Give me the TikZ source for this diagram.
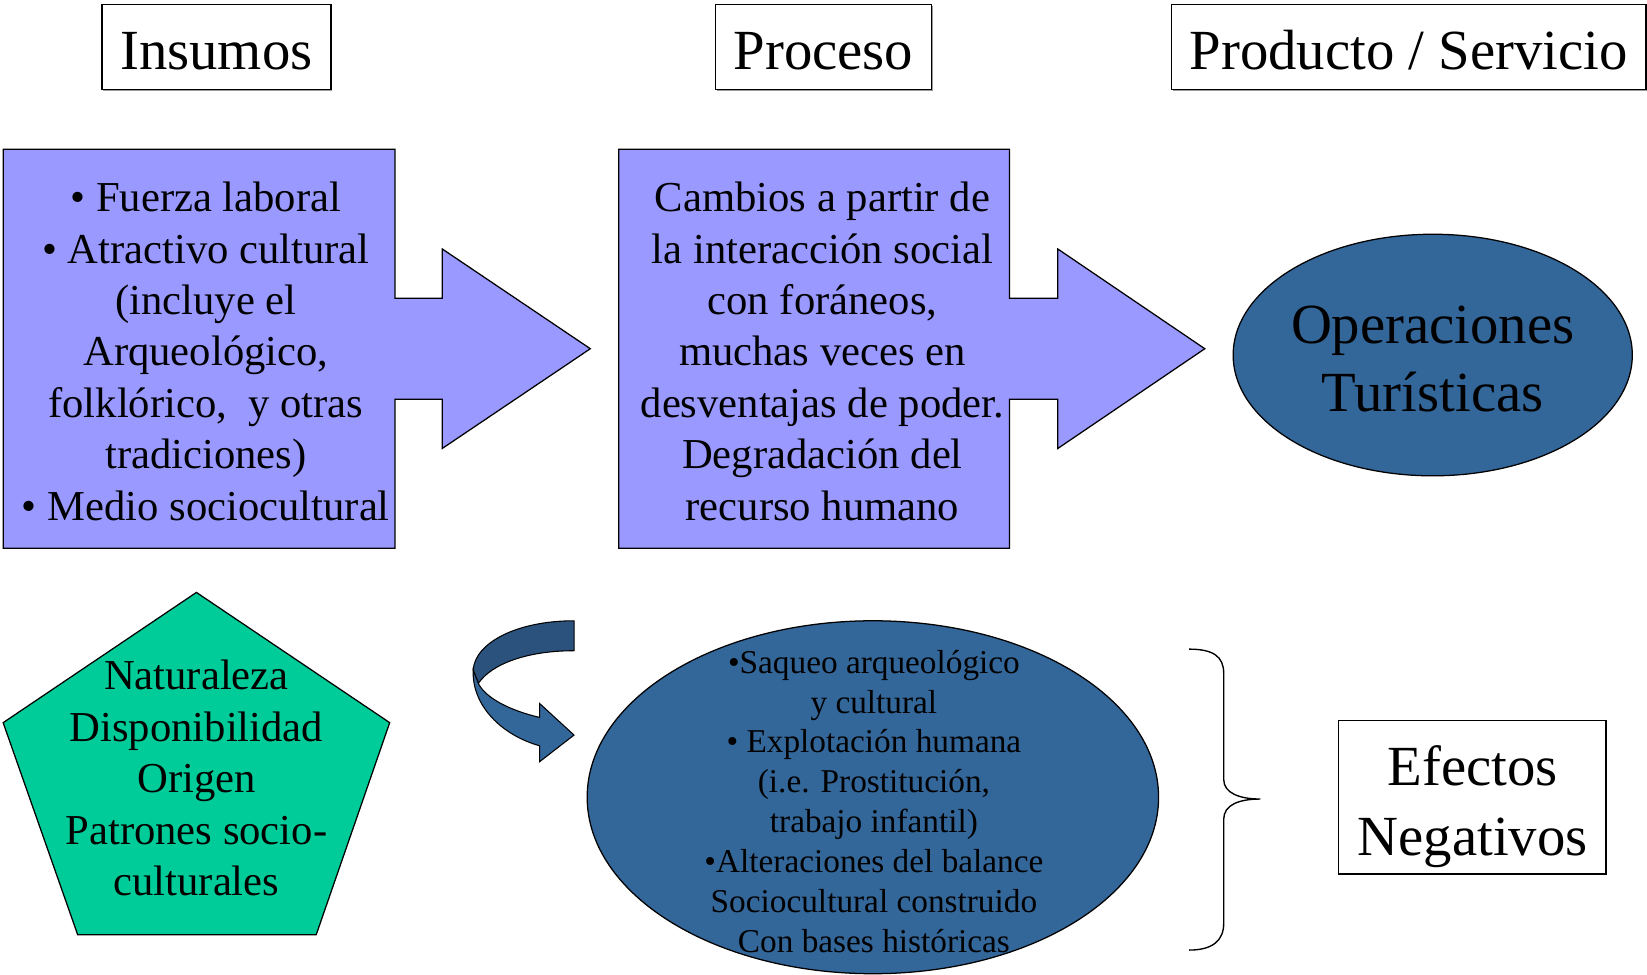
\documentclass[tikz,border=0pt]{standalone}
\usepackage{fontspec}
\setmainfont{Liberation Serif}
\usetikzlibrary{shadows}
\definecolor{lav}{RGB}{153,153,255}
\definecolor{steel}{RGB}{51,102,153}
\definecolor{steeldark}{RGB}{42,82,124}
\definecolor{mint}{RGB}{0,204,153}
\begin{document}
\begin{tikzpicture}[x=1pt,y=-1pt,line join=miter,
  big/.style={font=\fontsize{54}{65}\selectfont,align=center,inner sep=0pt},
  body/.style={font=\fontsize{40.6}{49}\selectfont,align=center,inner sep=0pt},
  small/.style={font=\fontsize{31.7}{38}\selectfont,align=center,inner sep=0pt},
  hbox/.style={draw,line width=1.3pt,fill=white,font=\fontsize{54}{65}\selectfont,
    text height=43pt,text depth=0pt,inner sep=0pt,
    drop shadow={shadow xshift=1.5pt,shadow yshift=-2pt,fill=gray,opacity=0.8}},
  outl/.style={draw,line width=1.2pt}]
\useasboundingbox (0,0) rectangle (1568,928);

% heading boxes
\node[hbox,minimum width=218pt,minimum height=81pt] (hin) at (206,44.5) {Insumos};
\node[hbox,minimum width=206pt,minimum height=81pt] (hpr) at (784,44.5) {Proceso};
\node[hbox,minimum width=452pt,minimum height=81pt] (hps) at (1341,44.5) {Producto / Servicio};

% input box with arrow
\draw[outl,fill=lav] (3,142) -- (376,142) -- (376,284) -- (421,284) -- (421,237) -- (562,332)
  -- (421,427) -- (421,380) -- (376,380) -- (376,522) -- (3,522) -- cycle;
\node[body] (insumos) at (196,334.5) {\textbullet\ Fuerza laboral\\ \textbullet\ Atractivo cultural\\ (incluye el\\ Arqueológico,\\ folklórico,\ \ y otras\\ tradiciones)\\ \textbullet\ Medio sociocultural};

% process box with arrow
\draw[outl,fill=lav] (589,142) -- (961,142) -- (961,284) -- (1007,284) -- (1007,237) -- (1147,332)
  -- (1007,427) -- (1007,380) -- (961,380) -- (961,522) -- (589,522) -- cycle;
\node[body] (proceso) at (783,334.5) {Cambios a partir de\\ la interacción social\\ con foráneos,\\ muchas veces en\\ desventajas de poder.\\ Degradación del\\ recurso humano};

% product ellipse
\draw[outl,fill=steel] (1364,338) ellipse [x radius=190, y radius=115];
\node[big] (oper) at (1364,342) {Operaciones\\ Turísticas};

% pentagon
\draw[outl,fill=mint] (187,564) -- (371,688) -- (301,890) -- (74,890) -- (3,688) -- cycle;
\node[body] (nat) at (187,741) {Naturaleza\\ Disponibilidad\\ Origen\\ Patrones socio-\\ culturales};

% curved arrow
\draw[outl,line width=1pt,fill=steeldark] (546.5,591) .. controls (492,591) and (452,612) .. (450.5,638)
  -- (455.4,650.6) .. controls (468,632) and (502,619.5) .. (546.5,619.5) -- cycle;
\draw[outl,line width=1pt,fill=steel] (450.5,638) .. controls (449,672) and (478,700) .. (513.7,710)
  -- (513.7,725.2) -- (546.5,699.8) -- (513.7,669.7) -- (513.7,683)
  .. controls (484,676) and (462,664) .. (455.4,650.6) -- cycle;

% negative effects ellipse
\draw[outl,fill=steel] (831,759) ellipse [x radius=272, y radius=168];
\node[small] (efx) at (832,763) {\textbullet Saqueo arqueológico\\ y cultural\\ \textbullet\ Explotación humana\\ (i.e. Prostitución,\\ trabajo infantil)\\ \textbullet Alteraciones del balance\\ Sociocultural construido\\ Con bases históricas};

% brace
\draw[line width=1.3pt] (1132,618) .. controls (1155,618) and (1165,625) .. (1165,641) -- (1165,742)
  .. controls (1165,755) and (1180,760.7) .. (1200,760.7)
  .. controls (1180,760.7) and (1165,766) .. (1165,780) -- (1165,879)
  .. controls (1165,895) and (1155,904.5) .. (1132,904.5);

% efectos box
\node[draw,line width=1.3pt,minimum width=255pt,minimum height=146pt,inner sep=0pt] (ebox) at (1401.5,759) {};
\node[font=\fontsize{54}{67}\selectfont,align=center,inner sep=0pt] (etxt) at (1402,768) {Efectos\\ Negativos};
\end{tikzpicture}
\end{document}
